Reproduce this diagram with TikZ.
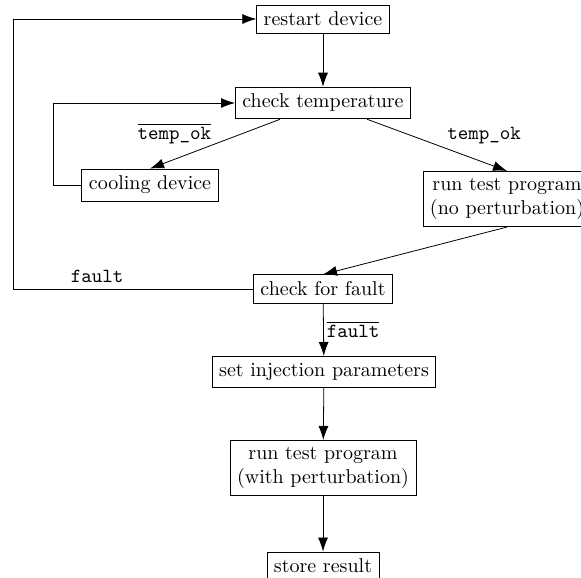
\documentclass[tikz,border=0pt]{standalone}
\usepackage{amsmath}
\usepackage{tikz}
\usetikzlibrary{positioning, arrows.meta, shapes.geometric}

\begin{document}
\begin{tikzpicture}[x=0.5pt, y=-0.5pt, >={Latex[length=7pt, width=5pt]}]
    \tikzstyle{box} = [draw, rectangle, align=center, inner xsep=3.5pt, inner ysep=3.5pt, fill=white]
    \tikzstyle{lbl} = [font=\ttfamily, inner sep=1.5pt]

    \useasboundingbox (0,0) rectangle (581,577);

    % Riavvio e controllo temperatura
    \node[box] (restart) at (323,19) {restart device};
    \node[box] (checktemp) at (323,103) {check temperature};
    \node[box] (cooling) at (150,185) {cooling device};
    \node[box] (runnoper) at (507,199) {run test program\\(no perturbation)};

    % Iniezione del guasto
    \node[box] (checkfault) at (323,289) {check for fault};
    \node[box] (setinj) at (324,372) {set injection parameters};
    \node[box] (runper) at (323,468) {run test program\\(with perturbation)};
    \node[box] (store) at (323,566) {store result};

    % Punti di ritorno degli anelli
    \coordinate (coolcorner) at (53,103);
    \coordinate (faultbottom) at (13,289);
    \coordinate (faulttop) at (13,19);

    \draw[->] (restart) -- (checktemp);
    \draw[->] (checktemp) -- node[lbl, above left, pos=0.52, inner sep=0.5pt] {$\overline{\texttt{temp\_ok}}$} (cooling.north);
    \draw[->] (checktemp) -- node[lbl, above right, pos=0.55] {temp\_ok} (runnoper.north);
    \draw[->] (cooling.west) -| (coolcorner) -- (checktemp.west);
    \draw[->] (runnoper.south) -- (checkfault.north);
    \draw[->] (checkfault.west) -- node[lbl, above, pos=0.65, inner sep=3pt] {fault} (faultbottom) -- (faulttop) -- (restart.west);
    \draw[->] (checkfault) -- node[lbl, right] {$\overline{\texttt{fault}}$} (setinj);
    \draw[->] (setinj) -- (runper);
    \draw[->] (runper) -- (store);
\end{tikzpicture}
\end{document}
